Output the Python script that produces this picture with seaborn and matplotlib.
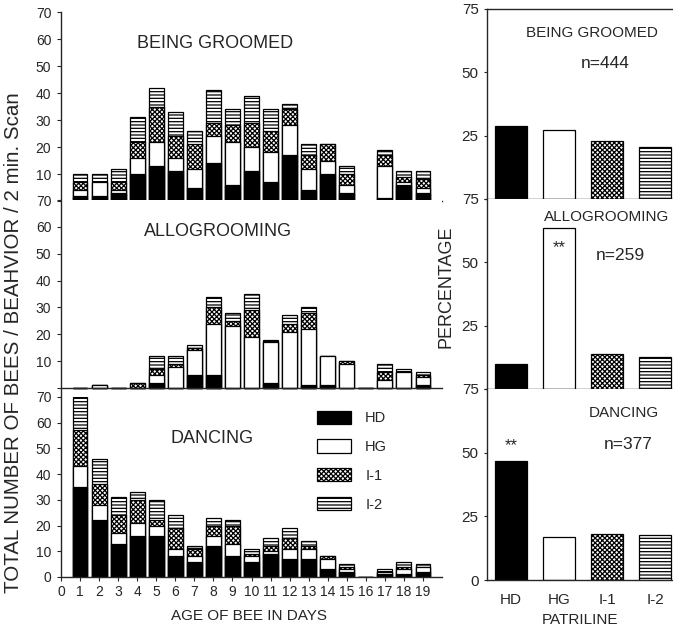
import numpy as np
import pandas as pd
import matplotlib
matplotlib.use("Agg")
import matplotlib.pyplot as plt
import seaborn as sns
from matplotlib.patches import Patch

# ---------------- data ----------------
days = list(range(1, 20))
patrilines = ["HD", "HG", "I-1", "I-2"]

bg_hd = [2, 2, 3, 10, 13, 11, 5, 14, 6, 11, 7, 17, 4, 10, 3, 0, 1, 6, 3]
bg_hg = [2, 5, 1, 6, 9, 5, 7, 10, 16, 9, 11, 11, 8, 5, 3, 0, 12, 1, 2]
bg_i1 = [3, 0, 3, 6, 13, 8, 9, 5, 6, 9, 8, 6, 5, 6, 4, 0, 4, 2, 3]
bg_i2 = [3, 3, 5, 9, 7, 9, 5, 12, 6, 10, 8, 2, 4, 0, 3, 0, 2, 2, 3]

ag_hd = [0, 0, 0, 0, 2, 0, 5, 5, 0, 0, 2, 0, 1, 1, 0, 0, 0, 0, 1]
ag_hg = [0, 1, 0, 0, 3, 8, 9, 19, 23, 19, 15, 21, 21, 11, 9, 0, 3, 6, 3]
ag_i1 = [0, 0, 0, 2, 2, 1, 1, 6, 2, 10, 0, 3, 6, 0, 1, 0, 3, 0, 1]
ag_i2 = [0, 0, 0, 0, 5, 3, 1, 4, 3, 6, 1, 3, 2, 0, 0, 0, 3, 1, 1]

da_hd = [35, 22, 13, 16, 16, 8, 6, 12, 8, 6, 9, 7, 7, 3, 2, 0, 1, 1, 2]
da_hg = [8, 6, 4, 5, 4, 3, 2, 4, 5, 2, 1, 4, 4, 4, 1, 0, 1, 2, 2]
da_i1 = [14, 8, 7, 9, 2, 8, 3, 4, 7, 1, 2, 4, 1, 1, 1, 0, 0, 1, 0]
da_i2 = [13, 10, 7, 3, 8, 5, 1, 3, 2, 2, 3, 4, 2, 0, 1, 0, 1, 2, 1]

pct_bg = [29.0, 27.1, 22.9, 20.4]
pct_ag = [10.0, 63.4, 13.9, 12.6]
pct_da = [46.9, 16.9, 18.1, 17.6]

left_ticks = list(range(0, 71, 10))
right_ticks = [0, 25, 50, 75]

# ---------------- style ----------------
sns.set_style("ticks")
plt.rcParams["font.family"] = ["Liberation Sans", "DejaVu Sans"]
plt.rcParams["hatch.color"] = "black"
plt.rcParams["hatch.linewidth"] = 0.9
plt.rcParams["axes.linewidth"] = 1.0

fills = {"HD": "black", "HG": "white", "I-1": "white", "I-2": "white"}
hatches = {"HD": None, "HG": None, "I-1": "xxxxxxx", "I-2": "-----"}

W, H = 673, 631
fig = plt.figure(figsize=(W / 100, H / 100), dpi=100)


def ax_px(l, t, r, b):
    return fig.add_axes([l / W, 1 - b / H, (r - l) / W, (b - t) / H])


def txt(x, y, s, size, **kw):
    cap = 0.716 * size * 100 / 72
    fig.text(x / W, 1 - (y + cap / 2) / H, s, fontsize=size,
             ha="center", va="baseline", **kw)


def stacked(ax, layers, ymin, bottom_labels):
    cum = np.cumsum(np.array(layers, dtype=float), axis=0)
    for k in range(3, -1, -1):
        p = patrilines[k]
        df = pd.DataFrame({"day": days, "n": cum[k]})
        sns.barplot(data=df, x="day", y="n", native_scale=True, width=0.78,
                    color=fills[p], saturation=1, edgecolor="black",
                    linewidth=0.9, hatch=hatches[p], errorbar=None, ax=ax)
    ax.set_xlim(0, 20)
    ax.set_ylim(ymin, 70)
    ax.set_xlabel("")
    ax.set_ylabel("")
    sns.despine(ax=ax)
    ax.spines["bottom"].set_position(("data", 0))
    ax.set_yticks(left_ticks)
    labs = [str(v) for v in left_ticks]
    if not bottom_labels:
        labs[0] = ""
    ax.set_yticklabels(labs)
    ax.tick_params(axis="y", length=3, width=0.8, pad=4, labelsize=10)
    if bottom_labels:
        ax.set_xticks(list(range(0, 20)))
        ax.set_xticklabels([str(v) for v in range(0, 20)])
        ax.tick_params(axis="x", length=3, width=0.8, pad=3, labelsize=10)
    else:
        ax.set_xticks([])


def pct_panel(ax, vals, top_spine, bottom_labels):
    df = pd.DataFrame({"p": patrilines, "v": vals})
    sns.barplot(data=df, x="p", y="v", hue="p", palette=fills, legend=False,
                saturation=1, width=0.67, edgecolor="black", linewidth=0.9,
                errorbar=None, ax=ax)
    for bar, p in zip(ax.patches, patrilines):
        if hatches[p]:
            bar.set_hatch(hatches[p])
    ax.set_xlim(-0.5, 3.5)
    ax.set_ylim(0, 75)
    ax.set_xlabel("")
    ax.set_ylabel("")
    ax.spines["right"].set_visible(False)
    ax.spines["top"].set_visible(top_spine)
    ax.set_yticks(right_ticks)
    labs = [str(v) for v in right_ticks]
    if not bottom_labels:
        labs[0] = ""
    ax.set_yticklabels(labs)
    ax.tick_params(axis="y", length=2, width=0.8, pad=4, labelsize=11)
    if bottom_labels:
        ax.tick_params(axis="x", length=0, pad=9, labelsize=11)
    else:
        ax.set_xticks([])


# ---------------- left panels ----------------
ax1 = ax_px(61, 12, 442, 201)
stacked(ax1, [bg_hd, bg_hg, bg_i1, bg_i2], 0, False)
ax2 = ax_px(61, 200, 442, 397)
stacked(ax2, [ag_hd, ag_hg, ag_i1, ag_i2], -3.35, False)
ax3 = ax_px(61, 397, 442, 577)
stacked(ax3, [da_hd, da_hg, da_i1, da_i2], 0, True)

handles = [Patch(facecolor=fills[p], edgecolor="black", hatch=hatches[p], linewidth=0.9)
           for p in patrilines]
ax3.legend(handles, patrilines, loc="upper left", bbox_to_anchor=(0.672, 0.925),
           frameon=False, fontsize=10.5, handlelength=2.3, handleheight=1.0,
           labelspacing=0.99, handletextpad=1.0, borderpad=0, borderaxespad=0)

# ---------------- right panels ----------------
r1 = ax_px(487, 9, 679, 199)
pct_panel(r1, pct_bg, True, False)
r2 = ax_px(487, 199, 679, 389)
pct_panel(r2, pct_ag, False, False)
r3 = ax_px(487, 389, 679, 580)
pct_panel(r3, pct_da, False, True)

# ---------------- texts ----------------
txt(215, 42, "BEING GROOMED", 13)
txt(218, 230, "ALLOGROOMING", 13)
txt(212, 437, "DANCING", 13)
txt(249, 615, "AGE OF BEE IN DAYS", 11)
fig.text(14 / W, 1 - 343 / H, "TOTAL NUMBER OF BEES / BEAHVIOR / 2 min. Scan",
         fontsize=14.8, rotation=90, ha="center", va="center")

txt(592, 32, "BEING GROOMED", 11)
txt(605, 62, "n=444", 12.5)
txt(607, 216, "ALLOGROOMING", 11)
txt(620, 254, "n=259", 12.5)
txt(624, 412, "DANCING", 11)
txt(628, 443, "n=377", 12.5)
txt(559, 246, "**", 12)
txt(511, 444, "**", 12)
txt(580, 619, "PATRILINE", 11)
fig.text(446 / W, 1 - 287 / H, "PERCENTAGE", fontsize=13, rotation=90,
         ha="center", va="center")

fig.savefig("out.png", dpi=100)
